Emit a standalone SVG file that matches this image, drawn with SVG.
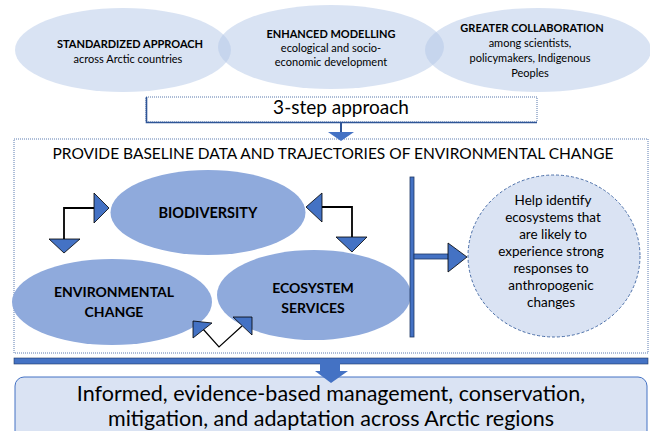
<svg xmlns="http://www.w3.org/2000/svg" width="650" height="431" viewBox="0 0 650 431">
<style>
text{font-family:Lato,"Open Sans","Liberation Sans",sans-serif;fill:#000;text-anchor:middle}
.b{font-weight:bold}
.top{fill:#b4c7e7;fill-opacity:0.5}
.mid{fill:#8faadc}
.ah{fill:#4472c4;stroke:#000;stroke-width:0.8;stroke-linejoin:miter}
.ln{fill:none;stroke:#000;stroke-width:1.8}
.bar{fill:#4472c4;stroke:#1f3864;stroke-width:0.8}
</style>
<rect width="650" height="431" fill="#fff"/>
<g id="top-standardized">
<ellipse class="top" cx="123" cy="50" rx="108" ry="42"/>
<text class="b" x="130" y="48" font-size="11">STANDARDIZED APPROACH</text>
<text x="128" y="63" font-size="11">across Arctic countries</text>
</g>
<g id="top-modelling">
<ellipse class="top" cx="331" cy="47" rx="113" ry="42"/>
<text class="b" x="331" y="38" font-size="11">ENHANCED MODELLING</text>
<text x="331" y="52" font-size="11">ecological and socio-</text>
<text x="331" y="66" font-size="11">economic development</text>
</g>
<g id="top-collaboration">
<ellipse class="top" cx="538" cy="50" rx="113" ry="42"/>
<text class="b" x="532" y="32" font-size="11">GREATER COLLABORATION</text>
<text x="530" y="47" font-size="11">among scientists,</text>
<text x="530" y="62" font-size="11">policymakers, Indigenous</text>
<text x="530" y="77" font-size="11">Peoples</text>
</g>
<g id="three-step">
<rect x="146" y="97" width="391" height="25" fill="#fff" stroke="#2f5597" stroke-width="0.8" stroke-dasharray="1,1"/>
<path d="M146.5,97 V122.5 H537" fill="none" stroke="#2f5597" stroke-width="1.6"/>
<text x="341" y="114" font-size="19">3-step approach</text>
</g>
<g id="main-box">
<rect x="14" y="139" width="634" height="214" fill="#fff" stroke="#4a6ea8" stroke-width="0.9" stroke-dasharray="1,1"/>
<text x="333" y="159" font-size="15.5">PROVIDE BASELINE DATA AND TRAJECTORIES OF ENVIRONMENTAL CHANGE</text>
</g>
<g id="biodiversity">
<ellipse class="mid" cx="208" cy="212.5" rx="97.5" ry="42.5"/>
<text class="b" x="208" y="218" font-size="14.5">BIODIVERSITY</text>
</g>
<g id="environmental-change">
<ellipse class="mid" cx="112" cy="302" rx="100" ry="43"/>
<text class="b" x="114" y="297" font-size="14">ENVIRONMENTAL</text>
<text class="b" x="114" y="317" font-size="14">CHANGE</text>
</g>
<g id="ecosystem-services">
<ellipse class="mid" cx="314" cy="295" rx="97" ry="45"/>
<text class="b" x="313" y="293" font-size="14">ECOSYSTEM</text>
<text class="b" x="313" y="313" font-size="14">SERVICES</text>
</g>
<g id="help-identify">
<ellipse cx="554" cy="256" rx="86" ry="81" fill="#dae3f3" stroke="#4a6ea8" stroke-width="1" stroke-dasharray="3,2"/>
<text x="553" y="205" font-size="13.5">Help identify</text>
<text x="553" y="222" font-size="13.5">ecosystems that</text>
<text x="553" y="239" font-size="13.5">are likely to</text>
<text x="551" y="256" font-size="13.5">experience strong</text>
<text x="551" y="273" font-size="13.5">responses to</text>
<text x="551" y="290" font-size="13.5">anthropogenic</text>
<text x="551" y="307" font-size="13.5">changes</text>
</g>
<g id="outcome">
<rect x="15" y="377" width="632" height="64" rx="9" fill="#dae3f3" stroke="#4472c4" stroke-width="1"/>
<text x="331" y="401" font-size="21.5">Informed, evidence-based management, conservation,</text>
<text x="331" y="426" font-size="21.5">mitigation, and adaptation across Arctic regions</text>
</g>
<g id="connectors">
<line x1="341" y1="122" x2="341" y2="133" stroke="#2f5597" stroke-width="2"/>
<polygon points="328,132 354,132 341,141" fill="#4472c4"/>
<polyline class="ln" points="94,208 64,208 64,239"/>
<polygon class="ah" points="94,193 109,208 94,223"/>
<polygon class="ah" points="49,239 80,239 64,253"/>
<polyline class="ln" points="322,207 352,207 352,237"/>
<polygon class="ah" points="322,193 306,207 322,222"/>
<polygon class="ah" points="336,237 367,237 352,252"/>
<polyline fill="none" stroke="#000" stroke-width="1.2" points="203,329 219,347 242,326"/>
<polygon class="ah" points="193,321 212,323 193,338"/>
<polygon class="ah" points="233,317 252,317 252,335"/>
<rect class="bar" x="410" y="177" width="4" height="160"/>
<rect class="bar" x="414" y="254" width="35" height="5"/>
<polygon class="ah" points="448,243 467,257 448,272"/>
<rect x="14" y="358" width="634" height="6" fill="#4472c4" stroke="#1f3864" stroke-width="0.6"/>
<rect x="320" y="363" width="20" height="9" fill="#4472c4"/>
<polygon points="315,371 348,371 331,383" fill="#4472c4"/>
</g>
</svg>
